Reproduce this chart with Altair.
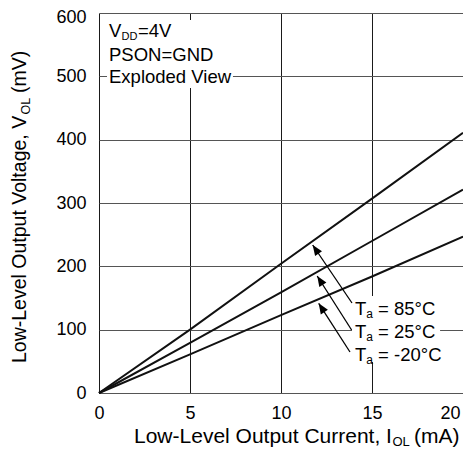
import math
import altair as alt
import pandas as pd

FONT = "Liberation Sans, Arial, Helvetica, sans-serif"

# ---- data ----
current_ma = [0, 5, 10, 15, 20]
vol_85 = [0, 100, 204, 307, 411]
vol_25 = [0, 79, 159, 240, 321]
vol_m20 = [0, 61, 123, 184, 247]
series_names = ["85°C", "25°C", "-20°C"]

x_ticks = [0, 5, 10, 15, 20]
y_ticks = [0, 100, 200, 300, 400, 500, 600]

# annotation positions (data units)
legend_rest = ["= 85°C", "= 25°C", "= -20°C"]
legend_x = [14.07, 14.07, 14.07]
legend_y = [123.2, 86.8, 50.5]
arrow_head_x = [11.74, 11.99, 12.07]
arrow_head_y = [233.7, 184.7, 141.6]
arrow_tail_x = [13.90, 13.88, 13.79]
arrow_tail_y = [142.1, 99.5, 64.7]

cond_text = ["V", "PSON=GND", "Exploded View"]
cond_x = [0.55, 0.55, 0.55]
cond_y = [562.0, 524.2, 489.5]

box_x = [0.44, 13.9]
box_x2 = [7.36, 18.74]
box_y = [589.0, 153.0]
box_y2 = [481.6, 49.0]

W, H = 364, 380
PX_PER_X = W / 20.0
PX_PER_Y = H / 600.0

# ---- tables ----
rows = []
for name, vals in zip(series_names, [vol_85, vol_25, vol_m20]):
    for c, v in zip(current_ma, vals):
        rows.append({"x": c, "y": v, "series": name})
df_lines = pd.DataFrame(rows)

df_boxes = pd.DataFrame({"x": box_x, "x2": box_x2, "y": box_y, "y2": box_y2})

angles = []
for hx, hy, tx, ty in zip(arrow_head_x, arrow_head_y, arrow_tail_x, arrow_tail_y):
    dx = (hx - tx) * PX_PER_X
    dy = -(hy - ty) * PX_PER_Y
    angles.append(math.degrees(math.atan2(dx, -dy)) % 360)
df_arrows = pd.DataFrame({"x": arrow_tail_x, "y": arrow_tail_y,
                          "x2": arrow_head_x, "y2": arrow_head_y})
df_heads = pd.DataFrame({"x": arrow_head_x, "y": arrow_head_y, "ang": angles})

df_legend = pd.DataFrame({"x": legend_x, "y": legend_y, "rest": legend_rest,
                          "T": ["T"] * 3, "a": ["a"] * 3})
df_cond = pd.DataFrame({"x": cond_x, "y": cond_y, "t": cond_text})
df_vdd = pd.DataFrame({"x": cond_x[:1], "y": cond_y[:1], "sub": ["DD"], "rest": ["=4V"]})

# ---- encodings ----
def X(field="x"):
    return alt.X(f"{field}:Q",
                 scale=alt.Scale(domain=[0, 20], nice=False, zero=False),
                 axis=alt.Axis(values=x_ticks, ticks=False, domain=False, grid=True,
                               gridColor="#1a1a1a", gridWidth=1, gridOpacity=1,
                               labelFont=FONT, labelFontSize=18, labelColor="black",
                               labelPadding=11, labelOverlap=False, labelBound=False,
                               labelFlush=False,
                               labelOffset={"condition": {"test": "datum.value == 20", "value": -13},
                                            "value": 0},
                               title=None))


def Y(field="y"):
    return alt.Y(f"{field}:Q",
                 scale=alt.Scale(domain=[0, 600], nice=False, zero=False),
                 axis=alt.Axis(values=y_ticks, ticks=False, domain=False, grid=True,
                               gridColor="#555555", gridWidth=1, gridOpacity=1,
                               labelFont=FONT, labelFontSize=18, labelColor="black",
                               labelPadding=13, labelOverlap=False, labelBound=False,
                               labelOffset={"condition": {"test": "datum.value == 600", "value": 4.5},
                                            "value": 0},
                               title=None))


lines = alt.Chart(df_lines).mark_line(color="#111111", strokeWidth=2).encode(
    x=X(), y=Y(), detail="series:N")

boxes = alt.Chart(df_boxes).mark_rect(color="white", opacity=1).encode(
    x=X(), x2="x2:Q", y=Y(), y2="y2:Q")

arrow_lines = alt.Chart(df_arrows).mark_rule(color="black", strokeWidth=1.3).encode(
    x=X(), y=Y(), x2="x2:Q", y2="y2:Q")

heads = alt.Chart(df_heads).mark_point(
    shape="M0,0 L0.4,1 L-0.4,1 Z", filled=True, color="black", opacity=1,
    size=440, strokeWidth=0).encode(
    x=X(), y=Y(), angle=alt.Angle("ang:Q", scale=None))

txt = dict(font=FONT, color="black", align="left", baseline="alphabetic")

leg_T = alt.Chart(df_legend).mark_text(fontSize=18.5, **txt).encode(x=X(), y=Y(), text="T:N")
leg_a = alt.Chart(df_legend).mark_text(fontSize=12, dx=11.3, dy=3, **txt).encode(x=X(), y=Y(), text="a:N")
leg_rest = alt.Chart(df_legend).mark_text(fontSize=18.5, dx=23, **txt).encode(x=X(), y=Y(), text="rest:N")

cond_main = alt.Chart(df_cond).mark_text(fontSize=18.5, **txt).encode(x=X(), y=Y(), text="t:N")
cond_sub = alt.Chart(df_vdd).mark_text(fontSize=11, dx=12.5, dy=3, **txt).encode(x=X(), y=Y(), text="sub:N")
cond_rest = alt.Chart(df_vdd).mark_text(fontSize=18.5, dx=29, **txt).encode(x=X(), y=Y(), text="rest:N")


def title_piece(text, x, y, size, angle=0):
    return alt.Chart(pd.DataFrame({"t": [text]})).mark_text(
        fontSize=size, angle=angle, **txt).encode(
        text="t:N", x=alt.value(x), y=alt.value(y))


xt1 = title_piece("Low-Level Output Current, I", 35, 430, 21)
xt2 = title_piece("OL", 293.5, 433, 13)
xt3 = title_piece("(mA)", 315, 430, 21)

yt1 = title_piece("Low-Level Output Voltage, V", -73, 350, 19.5, 270)
yt2 = title_piece("OL", -69, 101.5, 12.5, 270)
yt3 = title_piece("(mV)", -73, 80, 19.5, 270)

chart = alt.layer(
    lines, boxes, arrow_lines, heads,
    leg_T, leg_a, leg_rest, cond_main, cond_sub, cond_rest,
    xt1, xt2, xt3, yt1, yt2, yt3,
).properties(
    width=W, height=H,
    autosize=alt.AutoSizeParams(type="none"),
    padding={"left": 91, "top": 5, "right": 0, "bottom": 55},
).configure_view(
    stroke="black", strokeWidth=1.5
).configure(background="white")

chart.save("out.html", embed_options={"renderer": "svg", "actions": False})
